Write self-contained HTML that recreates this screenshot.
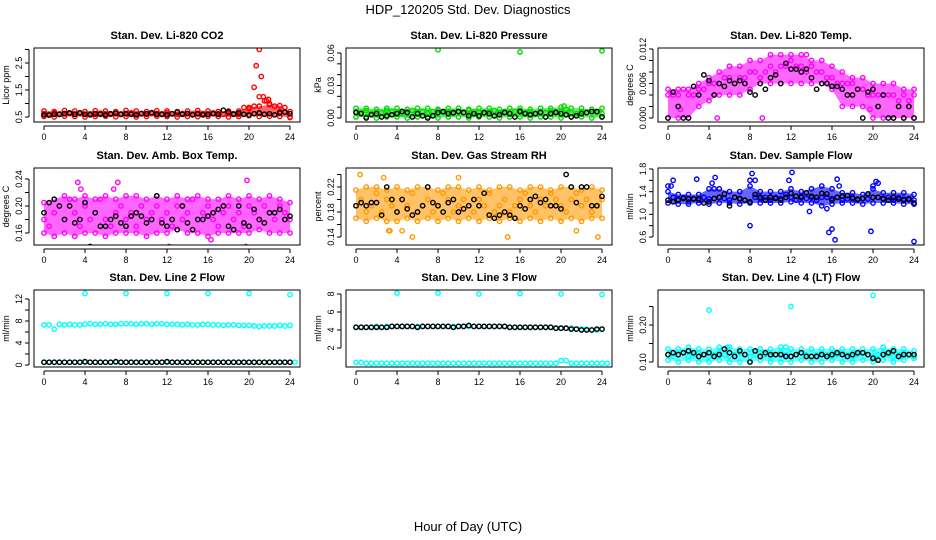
<!DOCTYPE html>
<html><head><meta charset="utf-8"><style>
body{margin:0;background:#fff;}
svg{display:block;font-family:"Liberation Sans",sans-serif;}
</style></head><body>
<svg id="chart" width="936" height="540" viewBox="0 0 936 540">
<text x="468" y="14" text-anchor="middle" font-size="13">HDP_120205  Std. Dev. Diagnostics</text>
<text x="468" y="531" text-anchor="middle" font-size="13">Hour of Day (UTC)</text>
</svg>
<script>
const xTicks=[0,4,8,12,16,20,24];
// Panel 1 CO2
const p1Col=[0.62,0.6,0.65,0.6,0.62,0.63,0.6,0.65,0.6,0.62,0.6,0.64,0.62,0.6,0.63,0.6,0.62,0.65,0.6,0.62,0.6,0.63,0.62,0.6,0.65,0.62,0.6,0.63,0.62,0.6,0.64,0.62,0.6,0.65,0.62,0.6,0.63,0.62,0.6,0.85,0.8,0.9,1.25,1.1,1.0,0.9,0.7,0.85,0.5];
const p1Lo=[0.52,0.5,0.53,0.52,0.5,0.52,0.53,0.51,0.52,0.5,0.52,0.53,0.52,0.5,0.52,0.51,0.53,0.52,0.5,0.52,0.55,0.52,0.53,0.52,0.48];
const p1Hi=[0.72,0.7,0.74,0.72,0.7,0.73,0.72,0.7,0.74,0.72,0.7,0.73,0.72,0.7,0.72,0.74,0.72,0.7,0.72,0.72,0.85,0.9,0.95,0.92,0.7];
const p1Blk=[0.58,0.57,0.6,0.6,0.62,0.65,0.6,0.65,0.6,0.58,0.62,0.6,0.58,0.62,0.64,0.6,0.62,0.6,0.58,0.63,0.62,0.66,0.6,0.6,0.58,0.62,0.68,0.6,0.63,0.58,0.62,0.58,0.6,0.62,0.6,0.75,0.68,0.6,0.65,0.6,0.58,0.62,0.65,0.6,0.62,0.58,0.65,0.68,0.62];
const p1OutX=[20.5,20.7,21,21.2,21.4,21.7,21.9];
const p1OutY=[1.6,2.4,3.0,2.0,1.25,1.1,1.15];
const p1Ticks=[0.5,1.0,1.5,2.0,2.5,3.0];
const p1Labels=["0.5","","1.5","","2.5",""];
// Panel 2 Pressure
const p2Col=[0.006,0.005,0.007,0.004,0.006,0.005,0.007,0.006,0.005,0.004,0.006,0.007,0.005,0.006,0.004,0.006,0.007,0.005,0.006,0.004,0.006,0.005,0.007,0.006,0.005,0.004,0.006,0.007,0.005,0.006,0.004,0.006,0.007,0.005,0.006,0.004,0.006,0.005,0.007,0.006,0.006,0.008,0.005,0.004,0.006,0.005,0.006,0.005,0.004];
const p2Lo=[0.001,0.001,0.0,0.001,0.001,0.0,0.001,0.001,0.0,0.001,0.001,0.0,0.001,0.001,0.0,0.001,0.001,0.0,0.001,0.001,0.0,0.001,0.001,0.0,0.001];
const p2Hi=[0.009,0.009,0.008,0.009,0.009,0.008,0.009,0.009,0.008,0.009,0.009,0.008,0.009,0.009,0.008,0.009,0.009,0.008,0.009,0.009,0.01,0.009,0.009,0.008,0.009];
const p2Blk=[0.005,0.004,0.0,0.003,0.004,0.001,0.002,0.003,0.004,0.006,0.005,0.001,0.004,0.002,0.0,0.002,0.005,0.006,0.004,0.005,0.006,0.005,0.002,0.004,0.002,0.005,0.004,0.002,0.003,0.005,0.004,0.001,0.006,0.004,0.003,0.004,0.005,0.001,0.004,0.005,0.004,0.003,0.001,0.002,0.004,0.005,0.006,0.006,0.001];
const p2OutX=[8,16,24,20.3];
const p2OutY=[0.063,0.061,0.062,0.011];
const p2Ticks=[0,0.01,0.02,0.03,0.04,0.05,0.06];
const p2Labels=["0.00","","","0.03","","","0.06"];
// Panel 3 Li-820 temp
const p3Col=[0.004,0.004,0.004,0.005,0.004,0.004,0.005,0.005,0.006,0.006,0.006,0.007,0.007,0.006,0.007,0.007,0.008,0.008,0.007,0.008,0.009,0.008,0.009,0.009,0.010,0.009,0.009,0.008,0.009,0.008,0.008,0.007,0.007,0.006,0.006,0.006,0.006,0.005,0.005,0.004,0.004,0.004,0.004,0.004,0.004,0.003,0.004,0.003,0.004];
const p3Lo=[0,0,0,0.002,0.003,0.004,0.004,0.004,0.005,0.006,0.006,0.006,0.006,0.006,0.006,0.006,0.005,0.002,0.002,0.002,0,0,0,0,0];
const p3Hi=[0.005,0.005,0.005,0.006,0.007,0.008,0.009,0.009,0.010,0.010,0.011,0.011,0.011,0.011,0.010,0.010,0.009,0.008,0.007,0.007,0.006,0.006,0.006,0.005,0.005];
const p3Blk=[0,0.0045,0.002,0,0,0.0055,0.004,0.0075,0.0065,0.004,0.006,0.0055,0.0065,0.006,0.0065,0.006,0.0045,0.004,0.006,0.005,0.007,0.0075,0.006,0.0095,0.0085,0.0085,0.008,0.0085,0.007,0.005,0.006,0.006,0.0055,0.0055,0.005,0.004,0.004,0.005,0,0.0045,0.005,0.002,0.004,0,0,0.002,0,0.002,0];
const p3OutX=[1.2,4.8,9.2,13.5,19.7];
const p3OutY=[0.0015,0.0,0.0,0.011,0.0015];
const p3Ticks=[0,0.002,0.004,0.006,0.008,0.010,0.012];
const p3Labels=["0.000","","","0.006","","","0.012"];
// Panel 4 Amb box temp
const p4Col=[0.18,0.17,0.19,0.2,0.18,0.21,0.19,0.17,0.2,0.18,0.19,0.21,0.18,0.17,0.19,0.2,0.18,0.19,0.17,0.2,0.18,0.19,0.2,0.18,0.19,0.17,0.2,0.18,0.19,0.21,0.18,0.19,0.2,0.18,0.17,0.19,0.2,0.18,0.19,0.17,0.2,0.19,0.18,0.2,0.19,0.18,0.2,0.19,0.18];
const p4Lo=[0.16,0.155,0.16,0.155,0.16,0.16,0.155,0.16,0.16,0.16,0.155,0.16,0.16,0.165,0.16,0.16,0.155,0.16,0.16,0.16,0.16,0.165,0.16,0.16,0.16];
const p4Hi=[0.205,0.21,0.215,0.21,0.215,0.21,0.215,0.21,0.215,0.215,0.21,0.215,0.21,0.215,0.21,0.215,0.21,0.21,0.215,0.21,0.215,0.21,0.215,0.21,0.205];
const p4Blk=[0.19,0.205,0.21,0.2,0.18,0.2,0.175,0.18,0.205,0.14,0.19,0.17,0.17,0.18,0.185,0.175,0.17,0.185,0.19,0.185,0.175,0.18,0.215,0.175,0.17,0.18,0.165,0.2,0.175,0.165,0.18,0.18,0.185,0.19,0.195,0.2,0.17,0.165,0.2,0.175,0.17,0.195,0.18,0.175,0.19,0.19,0.195,0.18,0.185];
const p4OutX=[3.3,3.6,8.5,7.2,12.2,16.3,19.7,19.8,6.8];
const p4OutY=[0.235,0.225,0.26,0.235,0.14,0.15,0.14,0.238,0.225];
const p4Ticks=[0.16,0.18,0.20,0.22,0.24];
const p4Labels=["0.16","","0.20","","0.24"];
// Panel 5 Gas stream RH
const p5Col=[0.19,0.2,0.18,0.19,0.21,0.18,0.2,0.19,0.18,0.2,0.19,0.21,0.18,0.19,0.2,0.18,0.19,0.21,0.2,0.18,0.19,0.2,0.19,0.18,0.2,0.19,0.21,0.18,0.19,0.2,0.18,0.19,0.2,0.21,0.19,0.18,0.2,0.19,0.21,0.2,0.19,0.18,0.2,0.21,0.19,0.2,0.18,0.19,0.2];
const p5Lo=[0.17,0.165,0.17,0.165,0.165,0.17,0.165,0.17,0.165,0.17,0.165,0.17,0.165,0.17,0.165,0.17,0.165,0.17,0.165,0.17,0.165,0.17,0.165,0.17,0.17];
const p5Hi=[0.215,0.22,0.22,0.215,0.22,0.215,0.22,0.22,0.215,0.22,0.22,0.215,0.22,0.215,0.22,0.22,0.215,0.22,0.22,0.215,0.22,0.22,0.215,0.22,0.215];
const p5Blk=[0.19,0.195,0.19,0.195,0.195,0.175,0.22,0.2,0.18,0.2,0.185,0.175,0.18,0.19,0.22,0.195,0.19,0.18,0.195,0.2,0.18,0.185,0.19,0.2,0.19,0.21,0.175,0.17,0.175,0.18,0.175,0.17,0.19,0.185,0.2,0.205,0.195,0.2,0.19,0.19,0.185,0.24,0.22,0.195,0.22,0.22,0.19,0.19,0.205];
const p5OutX=[0.4,2.7,3.3,4.5,5.5,14.8,23.6,21.5,10,3.2];
const p5OutY=[0.24,0.235,0.15,0.15,0.14,0.14,0.14,0.15,0.235,0.15];
const p5Ticks=[0.14,0.16,0.18,0.20,0.22,0.24];
const p5Labels=["0.14","","0.18","","0.22",""];
// Panel 6 Sample flow
const p6Col=[1.5,1.3,1.25,1.3,1.22,1.28,1.25,1.3,1.27,1.45,1.3,1.28,1.25,1.3,1.27,1.25,1.6,1.3,1.27,1.3,1.25,1.3,1.28,1.35,1.3,1.25,1.32,1.28,1.3,1.25,1.3,1.3,1.28,1.3,1.25,1.27,1.3,1.25,1.28,1.27,1.5,1.3,1.27,1.3,1.25,1.3,1.27,1.28,1.25];
const p6Lo=[1.2,1.18,1.18,1.2,1.18,1.2,1.2,1.18,1.2,1.2,1.2,1.2,1.22,1.2,1.2,1.15,1.18,1.2,1.2,1.18,1.2,1.2,1.2,1.18,1.18];
const p6Hi=[1.4,1.35,1.35,1.35,1.45,1.45,1.4,1.4,1.5,1.4,1.4,1.4,1.45,1.4,1.45,1.5,1.45,1.38,1.38,1.35,1.45,1.38,1.38,1.38,1.35];
const p6Blk=[1.25,1.22,1.26,1.28,1.27,1.27,1.28,1.2,1.22,1.28,1.3,1.36,1.15,1.3,1.28,1.25,1.22,1.35,1.3,1.25,1.3,1.28,1.25,1.3,1.37,1.32,1.3,1.38,1.32,1.3,1.37,1.36,1.25,1.3,1.32,1.33,1.28,1.27,1.28,1.36,1.3,1.3,1.28,1.25,1.3,1.27,1.25,1.26,1.2];
const p6OutX=[0.3,0.5,4.3,4.6,8.2,8.5,11.8,12.1,16.5,16.7,20.3,20.5,8,15.7,16,16.3,19.8,24,15.5,13.8,2.8];
const p6OutY=[1.5,1.6,1.55,1.65,1.72,1.6,1.6,1.74,1.62,1.5,1.58,1.55,0.8,0.68,0.74,0.55,0.7,0.52,1.1,1.05,1.62];
const p6Ticks=[0.6,0.8,1.0,1.2,1.4,1.6,1.8];
const p6Labels=["0.6","","1.0","","1.4","","1.8"];
// Panel 7 Line 2 flow
const p7Col=[7.3,7.3,6.5,7.4,7.3,7.4,7.3,7.3,7.4,7.5,7.4,7.4,7.5,7.4,7.4,7.5,7.5,7.5,7.4,7.5,7.5,7.4,7.5,7.5,7.4,7.4,7.4,7.3,7.4,7.3,7.3,7.4,7.4,7.3,7.3,7.2,7.3,7.3,7.2,7.2,7.2,7.1,7.0,7.1,7.1,7.1,7.2,7.1,7.2];
const p7Low=[0.5,0.5,0.5,0.5,0.5,0.5,0.5,0.5,0.5,0.5,0.5,0.5,0.5,0.5,0.5,0.5,0.5,0.5,0.5,0.5,0.5,0.5,0.5,0.5,0.5];
const p7Blk=[0.5,0.5,0.5,0.5,0.5,0.5,0.5,0.5,0.6,0.5,0.5,0.5,0.5,0.5,0.6,0.5,0.5,0.5,0.5,0.5,0.5,0.5,0.5,0.5,0.6,0.5,0.5,0.5,0.5,0.5,0.5,0.5,0.5,0.5,0.5,0.5,0.5,0.5,0.5,0.5,0.5,0.5,0.5,0.5,0.5,0.5,0.5,0.5,0.5];
const p7OutX=[4,8,12,16,20,24];
const p7OutY=[13,13,13,13,13,12.8];
const p7Ticks=[0,2,4,6,8,10,12];
const p7Labels=["0","","4","","8","","12"];
// Panel 8 Line 3 flow
const p8Col=[4.3,4.3,4.3,4.3,4.4,4.3,4.4,4.4,4.4,4.4,4.4,4.4,4.4,4.4,4.4,4.4,4.4,4.4,4.4,4.4,4.4,4.4,4.4,4.4,4.4,4.4,4.4,4.4,4.4,4.4,4.3,4.3,4.3,4.3,4.3,4.3,4.3,4.3,4.3,4.2,4.2,4.2,4.2,4.1,4.1,4.1,4.0,4.0,4.1];
const p8Low=[0.4,0.3,0.3,0.3,0.3,0.3,0.3,0.3,0.3,0.3,0.3,0.3,0.3,0.3,0.3,0.3,0.3,0.3,0.3,0.3,0.6,0.3,0.3,0.3,0.3];
const p8Blk=[4.3,4.3,4.3,4.3,4.3,4.3,4.3,4.4,4.4,4.4,4.4,4.4,4.3,4.4,4.4,4.4,4.4,4.4,4.4,4.3,4.4,4.4,4.5,4.4,4.4,4.4,4.4,4.4,4.4,4.4,4.3,4.3,4.3,4.3,4.3,4.3,4.3,4.3,4.3,4.2,4.2,4.2,4.1,4.1,4.0,4.0,4.0,4.1,4.1];
const p8OutX=[4,8,12,16,20,24];
const p8OutY=[8.1,8.1,8.0,8.05,8.0,7.95];
const p8Ticks=[2,4,6,8];
const p8Labels=["2","4","6","8"];
// Panel 9 Line 4 flow
const p9Col=[0.12,0.115,0.12,0.125,0.115,0.12,0.125,0.12,0.115,0.12,0.125,0.12,0.115,0.12,0.125,0.12,0.115,0.12,0.125,0.12,0.115,0.12,0.125,0.12,0.115,0.12,0.125,0.12,0.115,0.12,0.125,0.12,0.115,0.12,0.125,0.12,0.115,0.12,0.125,0.12,0.115,0.12,0.125,0.12,0.115,0.12,0.125,0.12,0.115];
const p9Lo=[0.105,0.1,0.105,0.1,0.1,0.105,0.1,0.1,0.1,0.105,0.1,0.1,0.1,0.105,0.1,0.1,0.105,0.1,0.1,0.105,0.1,0.105,0.1,0.105,0.11];
const p9Hi=[0.135,0.135,0.14,0.135,0.135,0.14,0.14,0.135,0.135,0.135,0.135,0.14,0.135,0.135,0.135,0.135,0.135,0.135,0.135,0.135,0.135,0.14,0.135,0.135,0.13];
const p9Blk=[0.12,0.125,0.12,0.125,0.13,0.125,0.115,0.12,0.125,0.115,0.12,0.135,0.125,0.115,0.13,0.12,0.1,0.13,0.115,0.125,0.12,0.12,0.12,0.115,0.115,0.12,0.125,0.115,0.115,0.115,0.12,0.115,0.12,0.125,0.12,0.115,0.12,0.125,0.125,0.12,0.11,0.105,0.12,0.125,0.13,0.115,0.12,0.12,0.12];
const p9OutX=[4,12,20,5.8,11.5];
const p9OutY=[0.24,0.25,0.28,0.14,0.14];
const p9Ticks=[0.10,0.15,0.20,0.25];
const p9Labels=["0.10","","0.20",""];

const NS="http://www.w3.org/2000/svg";
const svg=document.getElementById('chart');
function mk(tag,attrs,parent){const e=document.createElementNS(NS,tag);for(const k in attrs)e.setAttribute(k,attrs[k]);(parent||svg).appendChild(e);return e;}
const colL=[34,346,658], W=266;
const rows=[[48,122],[168,245],[290,367]];
const panels=[
 {t:"Stan. Dev. Li-820 CO2",yl:"Licor ppm",c:"#ff0000",col:p1Col,lo:p1Lo,hi:p1Hi,blk:p1Blk,ox:p1OutX,oy:p1OutY,tk:p1Ticks,lb:p1Labels,ref:[0.5,117,2.5,63]},
 {t:"Stan. Dev. Li-820 Pressure",yl:"kPa",c:"#00dd00",col:p2Col,lo:p2Lo,hi:p2Hi,blk:p2Blk,ox:p2OutX,oy:p2OutY,tk:p2Ticks,lb:p2Labels,ref:[0,118,0.06,53]},
 {t:"Stan. Dev. Li-820 Temp.",yl:"degrees C",c:"#ff00ff",col:p3Col,lo:p3Lo,hi:p3Hi,blk:p3Blk,ox:p3OutX,oy:p3OutY,tk:p3Ticks,lb:p3Labels,ref:[0,118,0.012,49]},
 {t:"Stan. Dev. Amb. Box Temp.",yl:"degrees C",c:"#ff00ff",col:p4Col,lo:p4Lo,hi:p4Hi,blk:p4Blk,ox:p4OutX,oy:p4OutY,tk:p4Ticks,lb:p4Labels,ref:[0.16,233,0.24,179]},
 {t:"Stan. Dev. Gas Stream RH",yl:"percent",c:"#ff9900",col:p5Col,lo:p5Lo,hi:p5Hi,blk:p5Blk,ox:p5OutX,oy:p5OutY,tk:p5Ticks,lb:p5Labels,ref:[0.14,237,0.22,187]},
 {t:"Stan. Dev. Sample Flow",yl:"ml/min",c:"#0000ff",col:p6Col,lo:p6Lo,hi:p6Hi,blk:p6Blk,ox:p6OutX,oy:p6OutY,tk:p6Ticks,lb:p6Labels,ref:[0.6,237,1.8,169]},
 {t:"Stan. Dev. Line 2 Flow",yl:"ml/min",c:"#00ffff",col:p7Col,low:p7Low,blk:p7Blk,ox:p7OutX,oy:p7OutY,tk:p7Ticks,lb:p7Labels,ref:[0,365,12,299]},
 {t:"Stan. Dev. Line 3 Flow",yl:"ml/min",c:"#00ffff",col:p8Col,low:p8Low,blk:p8Blk,ox:p8OutX,oy:p8OutY,tk:p8Ticks,lb:p8Labels,ref:[2,348,8,294]},
 {t:"Stan. Dev. Line 4 (LT) Flow",yl:"ml/min",c:"#00ffff",col:p9Col,lo:p9Lo,hi:p9Hi,blk:p9Blk,ox:p9OutX,oy:p9OutY,tk:p9Ticks,lb:p9Labels,ref:[0.10,362,0.20,325]}
];
panels.forEach((p,i)=>{
 const L=colL[i%3], R=L+W, T=rows[Math.floor(i/3)][0], B=rows[Math.floor(i/3)][1];
 const g=mk('g',{});
 
 
 const X=h=>L+10+h*(W-20)/24;
 const r=p.ref; const Y=v=>r[1]+(v-r[0])*(r[3]-r[1])/(r[2]-r[0]);
 const clip='clip'+i;
 const cp=mk('clipPath',{id:clip},g); mk('rect',{x:L,y:T,width:W,height:B-T},cp);
 const plot=mk('g',{'clip-path':'url(#'+clip+')'},g);
 if(p.lo){
  let d='';
  p.hi.forEach((v,k)=>{d+=(k?'L':'M')+X(k)+' '+Y(v);});
  for(let k=p.lo.length-1;k>=0;k--) d+='L'+X(k)+' '+Y(p.lo[k]);
  const band=mk('path',{d:d+'Z',fill:p.c,opacity:0.6},plot);
  
  
 }
 const dot=(x,y,c,nm)=>{const e=mk('circle',{cx:X(x),cy:Y(y),r:2.2,fill:'none',stroke:c,'stroke-width':1.4},plot);
  
  };
 if(p.lo){p.lo.forEach((v,k)=>dot(k,v,p.c,'point-low'));p.hi.forEach((v,k)=>dot(k,v,p.c,'point-high'));}
 if(p.low){p.low.forEach((v,k)=>dot(k,v,p.c,'point-lower-band'));p.low.forEach((v,k)=>dot(k+0.5,v,p.c,'point-lower-band'));}
 p.col.forEach((v,k)=>dot(k*0.5,v,p.c,'point-color'));
 p.ox.forEach((x,k)=>dot(x,p.oy[k],p.c,'point-outlier'));
 p.blk.forEach((v,k)=>dot(k*0.5,v,'#000','point-black'));
 const box=mk('rect',{x:L,y:T,width:W,height:B-T,fill:'none',stroke:'#000','stroke-width':1},g);
 
 
 const tt=mk('text',{x:L+W/2,y:T-9,'text-anchor':'middle','font-size':11,'font-weight':'bold'},g); tt.textContent=p.t;
 
 
 mk('line',{x1:X(0),x2:X(24),y1:B+4,y2:B+4,stroke:'#000'},g);
 xTicks.forEach(h=>{mk('line',{x1:X(h),x2:X(h),y1:B+4,y2:B+8,stroke:'#000'},g);
  const t=mk('text',{x:X(h),y:B+18,'text-anchor':'middle','font-size':9},g);t.textContent=h;
  
  });
 const ax=L-5;
 mk('line',{x1:ax,x2:ax,y1:Y(p.tk[0]),y2:Y(p.tk[p.tk.length-1]),stroke:'#000'},g);
 p.tk.forEach((v,k)=>{mk('line',{x1:ax-4,x2:ax,y1:Y(v),y2:Y(v),stroke:'#000'},g);
  if(p.lb[k]){const t=mk('text',{x:0,y:0,'text-anchor':'middle','font-size':9,transform:`translate(${ax-7},${Y(v)}) rotate(-90)`},g);t.textContent=p.lb[k];
  
  }});
 const yl=mk('text',{x:0,y:0,'text-anchor':'middle','font-size':9,transform:`translate(${L-25},${(T+B)/2}) rotate(-90)`},g);yl.textContent=p.yl;
 
 
});
</script>
</body></html>
